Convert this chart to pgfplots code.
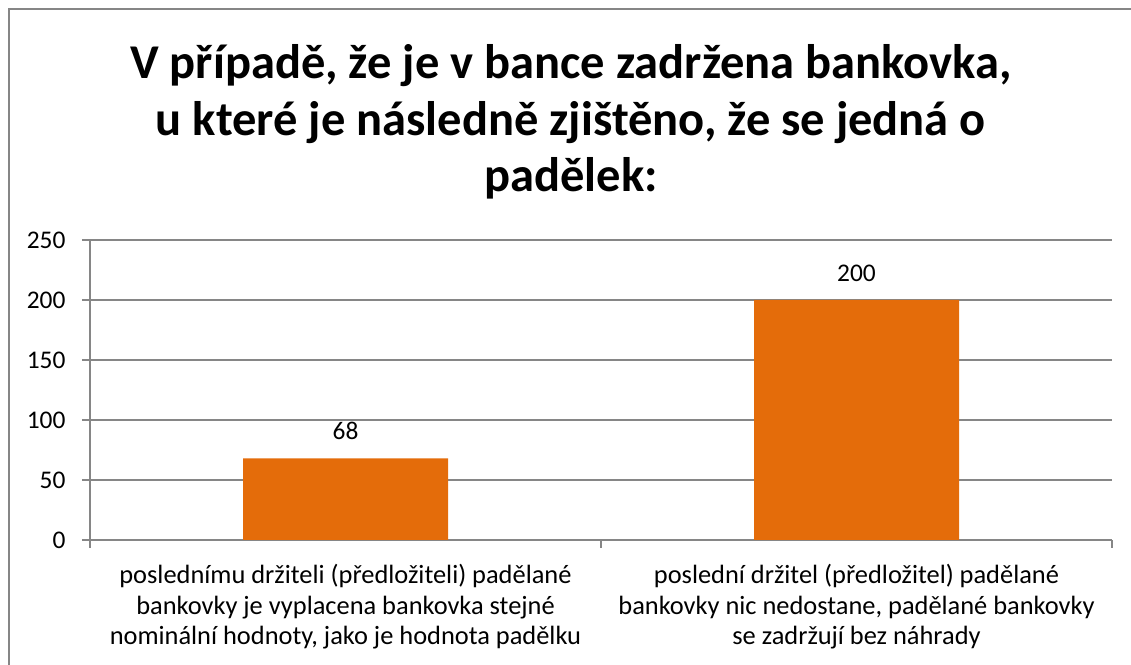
\documentclass[border=0pt]{standalone}
\usepackage{pgfplots}
\pgfplotsset{compat=1.18}
\usepackage{fontspec}
\setmainfont{Carlito}
\definecolor{barorange}{HTML}{E46C0A}
\definecolor{gridgray}{HTML}{868686}
\begin{document}
\begin{tikzpicture}[x=1bp,y=1bp]
\useasboundingbox (0,0) rectangle (1131,665);
\draw[gridgray, line width=2bp] (8.5,0) -- (8.5,655.5) -- (1140,655.5);
\node[align=center, font=\fontsize{48.7}{56.5}\selectfont\bfseries] at (571,665-122) {V případě, že je v bance zadržena bankovka,\\u které je následně zjištěno, že se jedná o\\padělek:};
\begin{axis}[
  at={(90bp,125bp)}, anchor=south west,
  scale only axis, width=1022bp, height=300bp,
  xmin=-0.5, xmax=1.5, ymin=0, ymax=250,
  axis x line*=bottom, axis y line*=left,
  axis line style={gridgray, line width=1.5bp},
  ytick={0,50,...,250},
  ymajorgrids, grid style={gridgray, line width=1.5bp},
  xtick={0,1}, major x tick style={draw=none},
  minor xtick={-0.5,0.5,1.5},
  tick align=outside,
  major tick length=8bp, minor tick length=8bp,
  tick style={gridgray, line width=1.5bp},
  yticklabel style={font=\fontsize{25.5}{30}\selectfont, xshift=-13bp},
  /pgf/number format/assume math mode=true,
  xticklabels={{posledním{u} držiteli (předložiteli) padělané\\bankovky je vyplacena bankovka stejné\\nominální hodnoty, jako je hodnota padělku},
               {poslední držitel (předložitel) padělané\\bankovky nic nedostane, padělané bankovky\\se zadržují bez náhrady}},
  xticklabel style={align=center, font=\fontsize{26.5}{30.5}\selectfont, yshift=-13bp},
  ybar, bar width=205bp,
  nodes near coords,
  every node near coord/.append style={font=\fontsize{25.5}{28}\selectfont, yshift=15bp},
]
\addplot[fill=barorange, draw=none] coordinates {(0,68) (1,200)};
\end{axis}
\end{tikzpicture}
\end{document}
